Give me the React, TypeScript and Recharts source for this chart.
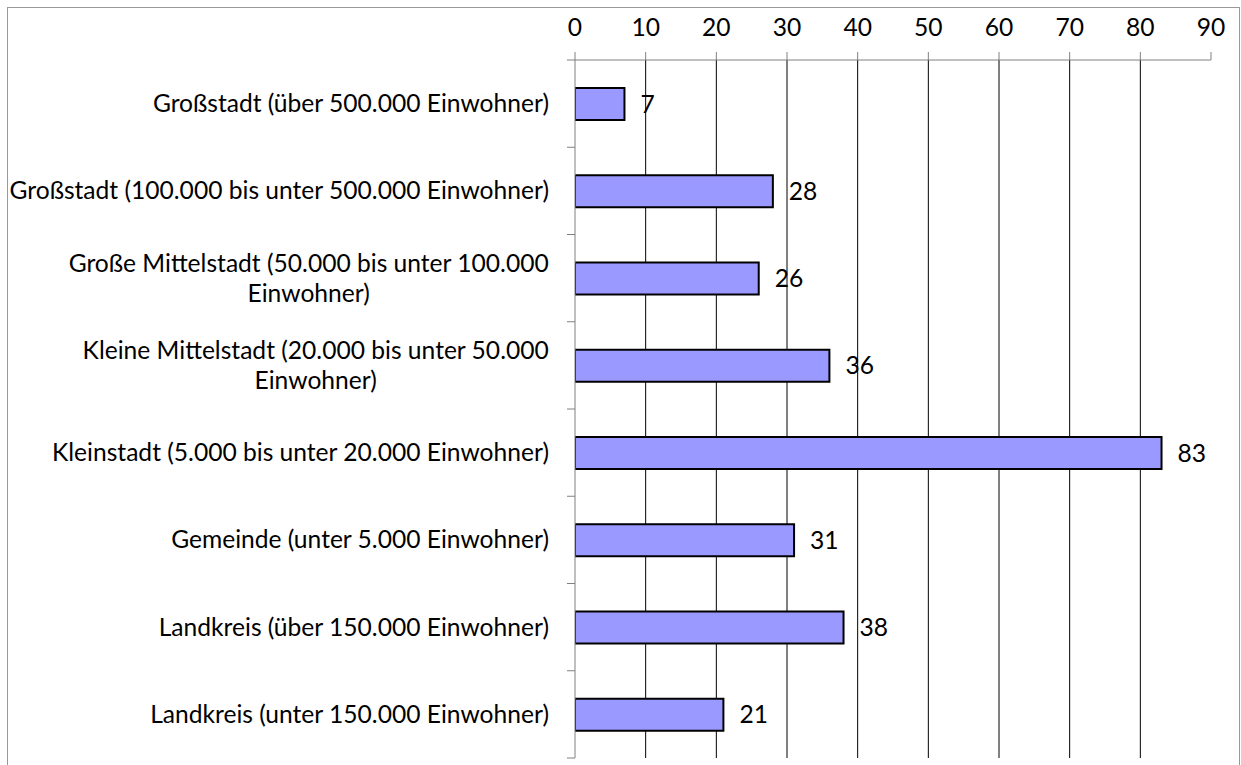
import React from 'react';
import { BarChart, Bar, XAxis, YAxis, CartesianGrid, LabelList } from 'recharts';

const categories: string[] = [
  'Großstadt (über 500.000 Einwohner)',
  'Großstadt (100.000 bis unter 500.000 Einwohner)',
  'Große Mittelstadt (50.000 bis unter 100.000\nEinwohner)',
  'Kleine Mittelstadt (20.000 bis unter 50.000\nEinwohner)',
  'Kleinstadt (5.000 bis unter 20.000 Einwohner)',
  'Gemeinde (unter 5.000 Einwohner)',
  'Landkreis (über 150.000 Einwohner)',
  'Landkreis (unter 150.000 Einwohner)',
];
const values: number[] = [7, 28, 26, 36, 83, 31, 38, 21];
const xTicks: number[] = [0, 10, 20, 30, 40, 50, 60, 70, 80, 90];
const gridValues: number[] = [10, 20, 30, 40, 50, 60, 70, 80];

const data = categories.map((name, i) => ({ name, value: values[i] }));

const FONT_FAMILY = 'Lato';
const FONT_SIZE = 24.6;
const LINE_GAP = 30;
const TICK_SIZE = 8;
const TICK_MARGIN = 18;
const AXIS_COLOR = '#808080';

let ctx: CanvasRenderingContext2D | null = null;
function measure(t: string): number {
  if (!ctx) {
    const c = document.createElement('canvas');
    ctx = c.getContext('2d');
  }
  if (!ctx) return t.length * FONT_SIZE * 0.5;
  ctx.font = `${FONT_SIZE}px ${FONT_FAMILY}`;
  return ctx.measureText(t).width;
}

const CategoryTick = (props: any) => {
  const { x, y, payload, index, height } = props;
  const n = categories.length;
  const band = height ? height / n : (payload?.offset ? payload.offset * 2 : 87);
  const axisX = x + TICK_MARGIN + TICK_SIZE;
  const lines: string[] = String(payload.value).split('\n');
  const maxW = Math.max(...lines.map(measure));
  const cx = x - maxW / 2;
  const startY = y - ((lines.length - 1) * LINE_GAP) / 2;
  return (
    <g>
      <line x1={axisX - TICK_SIZE} x2={axisX} y1={y - band / 2} y2={y - band / 2} stroke={AXIS_COLOR} />
      {index === n - 1 && (
        <line x1={axisX - TICK_SIZE} x2={axisX} y1={y + band / 2} y2={y + band / 2} stroke={AXIS_COLOR} />
      )}
      {lines.map((l, i) => (
        <text
          key={i}
          x={lines.length > 1 ? cx : x}
          y={startY + i * LINE_GAP}
          dy="0.35em"
          textAnchor={lines.length > 1 ? 'middle' : 'end'}
          fontSize={FONT_SIZE}
          fontFamily={FONT_FAMILY}
          fill="#000"
        >
          {l}
        </text>
      ))}
    </g>
  );
};

export default function App() {
  return (
    <div
      style={{
        position: 'fixed',
        left: 7,
        top: 7,
        width: 1233,
        height: 758,
        overflow: 'hidden',
        background: '#fff',
      }}
    >
      <div
        style={{
          width: 1231,
          height: 790,
          border: '1px solid #999999',
          fontFamily: FONT_FAMILY,
          background: '#fff',
        }}
      >
        <BarChart
          width={1231}
          height={790}
          data={data}
          layout="vertical"
          margin={{ top: 0, right: 28, bottom: 40, left: 0 }}
          barCategoryGap={0}
        >
          <CartesianGrid horizontal={false} vertical={true} stroke="#000" verticalValues={gridValues} />
          <XAxis
            type="number"
            orientation="top"
            domain={[0, 90]}
            ticks={xTicks}
            interval={0}
            height={52}
            tickSize={TICK_SIZE}
            tickMargin={16}
            axisLine={{ stroke: AXIS_COLOR }}
            tickLine={{ stroke: AXIS_COLOR }}
            tick={{ fill: '#000', fontSize: FONT_SIZE, fontFamily: FONT_FAMILY }}
            allowDataOverflow
          />
          <YAxis
            type="category"
            dataKey="name"
            width={567}
            interval={0}
            tickSize={TICK_SIZE}
            tickMargin={TICK_MARGIN}
            axisLine={{ stroke: AXIS_COLOR }}
            tickLine={{ stroke: 'transparent' }}
            tick={<CategoryTick />}
          />
          <Bar dataKey="value" fill="#9999FF" stroke="#000" strokeWidth={2} barSize={32} isAnimationActive={false}>
            <LabelList
              dataKey="value"
              position="right"
              offset={16}
              fill="#000"
              fontSize={FONT_SIZE}
              fontFamily={FONT_FAMILY}
            />
          </Bar>
        </BarChart>
      </div>
    </div>
  );
}
